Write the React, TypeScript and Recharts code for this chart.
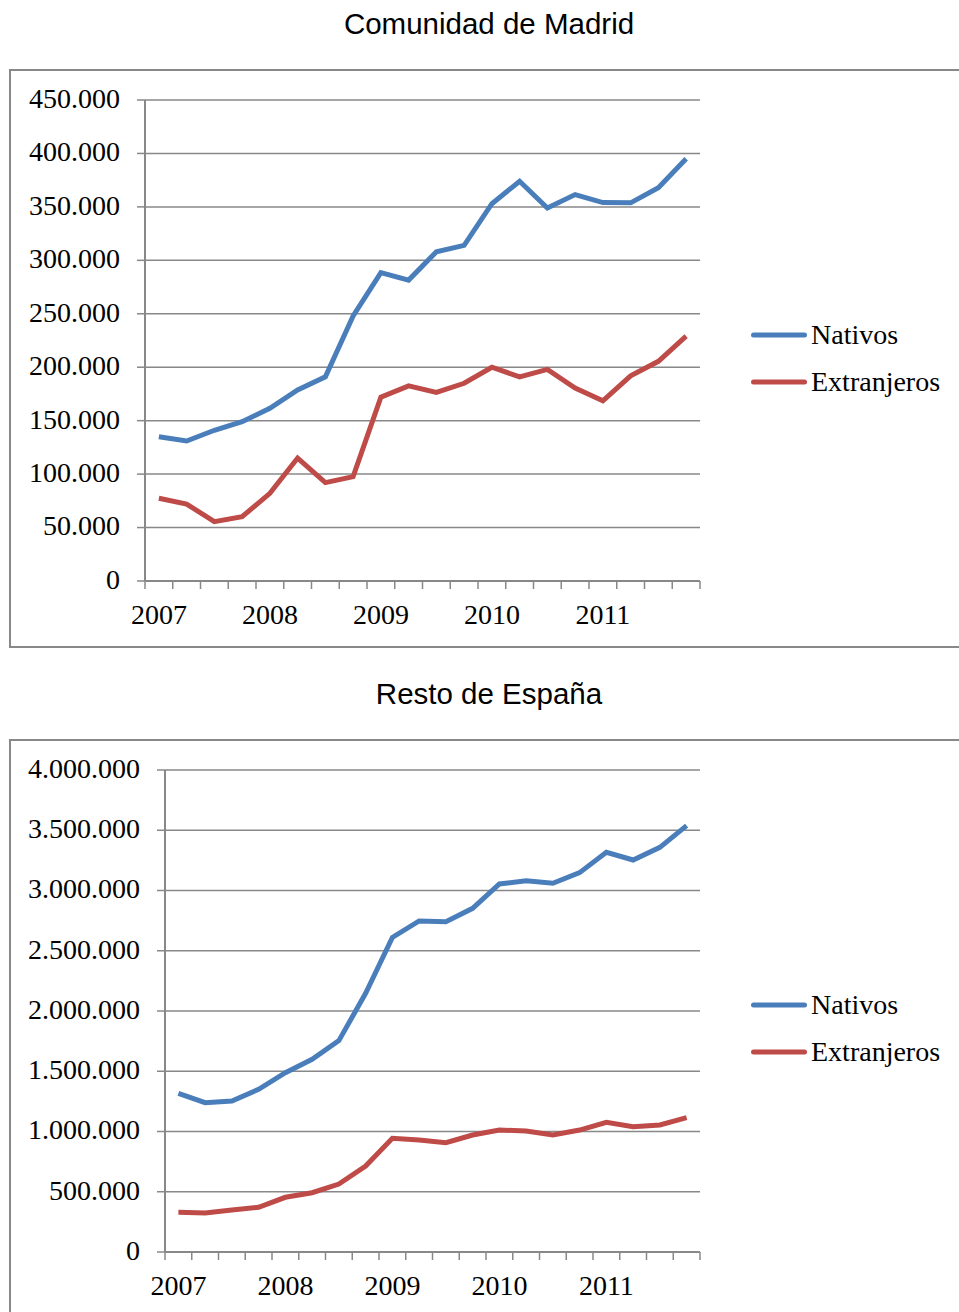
import { LineChart, Line, XAxis, YAxis, CartesianGrid, Legend } from "recharts";

const quarters = [
  "2007-T1", "2007-T2", "2007-T3", "2007-T4",
  "2008-T1", "2008-T2", "2008-T3", "2008-T4",
  "2009-T1", "2009-T2", "2009-T3", "2009-T4",
  "2010-T1", "2010-T2", "2010-T3", "2010-T4",
  "2011-T1", "2011-T2", "2011-T3", "2011-T4",
];

const madridNativos = [
  135000, 131000, 141000, 149000, 161500, 178700, 191000, 248000, 288500, 281500,
  308000, 314000, 353000, 374000, 349000, 361500, 354000, 353800, 368000, 395000,
];
const madridExtranjeros = [
  77400, 72000, 55500, 60200, 82000, 115000, 92000, 97600, 172000, 182500,
  176500, 185000, 200000, 191000, 198000, 180500, 168500, 192000, 205500, 229000,
];
const madridTicks = [0, 50000, 100000, 150000, 200000, 250000, 300000, 350000, 400000, 450000];

const restoNativos = [
  1317000, 1239000, 1253000, 1350000, 1488000, 1599000, 1754000, 2147000, 2611000, 2747000,
  2741000, 2852000, 3054000, 3081000, 3060000, 3148000, 3317000, 3253000, 3358000, 3538000,
];
const restoExtranjeros = [
  329000, 324000, 348000, 371000, 454000, 492000, 564000, 714000, 943000, 929000,
  907000, 971000, 1012000, 1004000, 971000, 1012000, 1076000, 1040000, 1054000, 1115000,
];
const restoTicks = [0, 500000, 1000000, 1500000, 2000000, 2500000, 3000000, 3500000, 4000000];

const seriesOrder = ["Nativos", "Extranjeros"];

const BLUE = "#4A7EBB";
const RED = "#BE4B48";
const GRAY = "#888888";
const SERIF = "'Liberation Serif', serif";
const SANS = "'Liberation Sans', sans-serif";

const fmt = (v: number) => String(v).replace(/\B(?=(\d{3})+(?!\d))/g, ".");

const QuarterTick = (props: any) => {
  const { x, y, payload, index, visibleTicksCount, band } = props;
  const half = band / 2;
  const [year, q] = String(payload.value).split("-");
  return (
    <g>
      <line x1={x - half} x2={x - half} y1={y} y2={y + 8} stroke={GRAY} strokeWidth={1.5} />
      {index === visibleTicksCount - 1 && (
        <line x1={x + half} x2={x + half} y1={y} y2={y + 8} stroke={GRAY} strokeWidth={1.5} />
      )}
      {q === "T1" && (
        <text x={x} y={y + 43} textAnchor="middle" fontFamily={SERIF} fontSize={28} fill="#000">
          {year}
        </text>
      )}
    </g>
  );
};

const LegendBox = (props: any) => {
  const items = [...(props.payload || [])].sort(
    (a: any, b: any) => seriesOrder.indexOf(a.value) - seriesOrder.indexOf(b.value)
  );
  return (
    <div>
      {items.map((p: any) => (
        <div key={p.value} style={{ display: "flex", alignItems: "center", height: 46.5 }}>
          <svg width={56} height={8} style={{ display: "block" }}>
            <line x1={2.5} x2={53.5} y1={4} y2={4} stroke={p.color} strokeWidth={5} strokeLinecap="round" />
          </svg>
          <span style={{ marginLeft: 4, fontFamily: SERIF, fontSize: 28, color: "#000", lineHeight: "32px" }}>
            {p.value}
          </span>
        </div>
      ))}
    </div>
  );
};

type ChartProps = {
  top: number;
  height: number;
  plotLeft: number;
  plotBottom: number;
  nativos: number[];
  extranjeros: number[];
  ticks: number[];
};

const PanelChart = ({ top, height, plotLeft, plotBottom, nativos, extranjeros, ticks }: ChartProps) => {
  const plotRight = 700;
  const band = (plotRight - plotLeft) / quarters.length;
  const data = quarters.map((q, i) => ({ q, Nativos: nativos[i], Extranjeros: extranjeros[i] }));
  const axisH = 40;
  return (
    <div style={{ position: "absolute", left: 0, top }}>
      <LineChart
        width={959}
        height={height}
        data={data}
        margin={{ top: 100, right: 959 - plotRight, left: 0, bottom: height - plotBottom - axisH }}
      >
        <CartesianGrid vertical={false} stroke={GRAY} strokeWidth={1.5} />
        <XAxis
          dataKey="q"
          interval={0}
          height={axisH}
          padding={{ left: band / 2, right: band / 2 }}
          tickLine={false}
          tickSize={0}
          tickMargin={0}
          axisLine={{ stroke: GRAY, strokeWidth: 2 }}
          tick={(p: any) => <QuarterTick {...p} band={band} />}
        />
        <YAxis
          width={plotLeft}
          domain={[0, ticks[ticks.length - 1]]}
          ticks={ticks}
          interval={0}
          tickFormatter={fmt}
          tickSize={8}
          tickMargin={17}
          axisLine={{ stroke: GRAY, strokeWidth: 2 }}
          tickLine={{ stroke: GRAY, strokeWidth: 1.5 }}
          tick={{ fill: "#000", fontFamily: SERIF, fontSize: 28, dy: -2 }}
        />
        <Legend
          layout="vertical"
          align="center"
          verticalAlign="middle"
          content={<LegendBox />}
          wrapperStyle={{ left: 751, top: 312, width: 208 }}
        />
        <Line type="linear" dataKey="Nativos" stroke={BLUE} strokeWidth={5} dot={false} isAnimationActive={false} />
        <Line type="linear" dataKey="Extranjeros" stroke={RED} strokeWidth={5} dot={false} isAnimationActive={false} />
      </LineChart>
    </div>
  );
};

const titleStyle = (top: number): React.CSSProperties => ({
  position: "absolute",
  left: 189,
  width: 600,
  top,
  textAlign: "center",
  fontFamily: SANS,
  fontSize: 29.5,
  lineHeight: "29px",
  color: "#000",
  whiteSpace: "nowrap",
});

const boxStyle = (top: number, height: number): React.CSSProperties => ({
  position: "absolute",
  left: 9,
  top,
  width: 980,
  height,
  border: `2px solid ${GRAY}`,
  boxSizing: "border-box",
});

export default function App() {
  return (
    <div
      style={{
        position: "absolute",
        left: 0,
        top: 0,
        width: 959,
        height: 1312,
        overflow: "hidden",
        background: "#fff",
      }}
    >
      <div style={titleStyle(8.5)}>Comunidad de Madrid</div>
      <div style={boxStyle(69, 579)} />
      <PanelChart
        top={0}
        height={660}
        plotLeft={145}
        plotBottom={581}
        nativos={madridNativos}
        extranjeros={madridExtranjeros}
        ticks={madridTicks}
      />

      <div style={titleStyle(678.5)}>Resto de España</div>
      <div style={boxStyle(739, 700)} />
      <PanelChart
        top={670}
        height={642}
        plotLeft={165}
        plotBottom={582}
        nativos={restoNativos}
        extranjeros={restoExtranjeros}
        ticks={restoTicks}
      />
    </div>
  );
}
